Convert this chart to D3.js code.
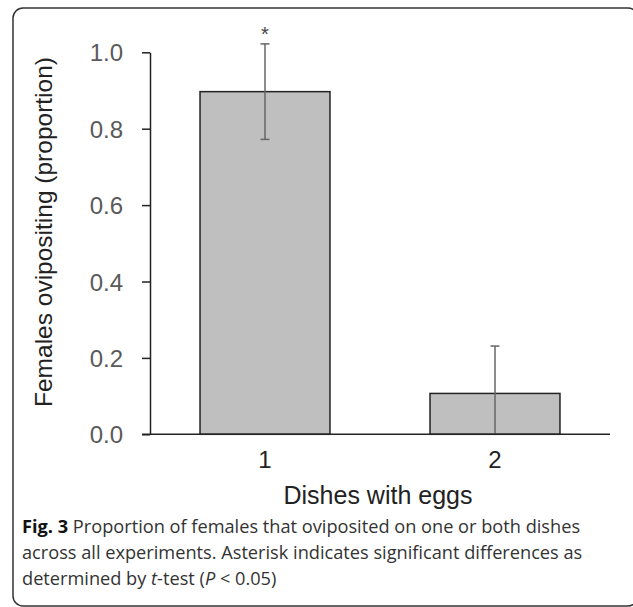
<!DOCTYPE html>
<html lang="en">
<head>
<meta charset="UTF-8">
<title>Fig. 3</title>
<style>
  body { margin: 0; background: #fff; }
  svg { display: block; }
</style>
</head>
<body>
<script src="https://d3js.org/d3.v7.min.js"></script>
<script>
  // values
  const categories = ['1', '2']
  const proportions = [0.897, 0.107]
  const errors = [0.125, 0.124]
  const marks = ['*', '']
  const yTicks = [0, 0.2, 0.4, 0.6, 0.8, 1.0]
  const captionLines = [
    [{ t: 'Fig. 3', b: true }, { t: ' Proportion of females that oviposited on one or both dishes' }],
    [{ t: 'across all experiments. Asterisk indicates significant differences as' }],
    [{ t: 'determined by ' }, { t: 't', i: true }, { t: '-test (' }, { t: 'P', i: true }, { t: ' < 0.05)' }]
  ]

  const width = 633
  const height = 607
  const svg = d3.select('body').append('svg')
    .attr('width', width)
    .attr('height', height)

  // panel frame (right side runs past the picture edge)
  svg.append('rect')
    .attr('x', 13)
    .attr('y', 8)
    .attr('width', 625)
    .attr('height', 598)
    .attr('rx', 10)
    .attr('fill', 'none')
    .attr('stroke', '#333')
    .attr('stroke-width', 1.5)

  const plot = { left: 150, right: 610, top: 52.3, bottom: 434.3 }

  const x = d3.scaleBand()
    .domain(categories)
    .range([plot.left, plot.right])
    .paddingInner(0.435)
    .paddingOuter(0.2175)

  const y = d3.scaleLinear()
    .domain([0, 1])
    .range([plot.bottom, plot.top])

  // y axis
  const yAxis = svg.append('g')
    .attr('transform', `translate(${plot.left},0)`)
    .call(d3.axisLeft(y).tickValues(yTicks).tickFormat(d3.format('.1f')).tickSize(8).tickSizeOuter(0))
  yAxis.select('.domain').attr('stroke', '#222').attr('stroke-width', 1.5)
  yAxis.selectAll('.tick line').attr('stroke', '#222').attr('stroke-width', 1.5)
  yAxis.selectAll('.tick text')
    .attr('x', -27)
    .attr('dy', '0.36em')
    .attr('fill', '#5a5a5a')
    .style('font', '24px "Liberation Sans", Arial, sans-serif')

  // bars
  svg.append('g').selectAll('rect')
    .data(categories)
    .join('rect')
    .attr('x', d => x(d))
    .attr('y', (d, i) => y(proportions[i]))
    .attr('width', x.bandwidth())
    .attr('height', (d, i) => y(0) - y(proportions[i]))
    .attr('fill', '#bfbfbf')
    .attr('stroke', '#222')
    .attr('stroke-width', 1.5)

  // error bars
  const err = svg.append('g').attr('stroke', '#666').attr('stroke-width', 1.5)
  categories.forEach((c, i) => {
    const cx = x(c) + x.bandwidth() / 2
    const hi = proportions[i] + errors[i]
    const lo = Math.max(0, proportions[i] - errors[i])
    err.append('line')
      .attr('x1', cx).attr('x2', cx)
      .attr('y1', y(hi)).attr('y2', y(lo))
    err.append('line')
      .attr('x1', cx - 4.5).attr('x2', cx + 4.5)
      .attr('y1', y(hi)).attr('y2', y(hi))
    if (lo > 0) {
      err.append('line')
        .attr('x1', cx - 4.5).attr('x2', cx + 4.5)
        .attr('y1', y(lo)).attr('y2', y(lo))
    }
    if (marks[i]) {
      svg.append('text')
        .attr('x', cx)
        .attr('y', y(hi) - 3)
        .attr('text-anchor', 'middle')
        .attr('fill', '#444')
        .style('font', '20px "Liberation Sans", Arial, sans-serif')
        .text(marks[i])
    }
  })

  // x axis
  const xAxis = svg.append('g')
    .attr('transform', `translate(0,${plot.bottom})`)
    .call(d3.axisBottom(x).tickSize(0).tickPadding(0))
  xAxis.select('.domain')
    .attr('d', `M${plot.left - 8},0H${plot.right}`)
    .attr('stroke', '#222')
    .attr('stroke-width', 1.5)
  xAxis.selectAll('.tick text')
    .attr('y', 34)
    .attr('dy', 0)
    .attr('fill', '#222')
    .style('font', '24px "Liberation Sans", Arial, sans-serif')

  // axis titles
  svg.append('text')
    .attr('transform', 'translate(52,232) rotate(-90)')
    .attr('text-anchor', 'middle')
    .attr('fill', '#222')
    .style('font', '24.5px "Liberation Sans", Arial, sans-serif')
    .text('Females ovipositing (proportion)')

  svg.append('text')
    .attr('x', 378)
    .attr('y', 504)
    .attr('text-anchor', 'middle')
    .attr('fill', '#222')
    .style('font', '25px "Liberation Sans", Arial, sans-serif')
    .text('Dishes with eggs')

  // caption
  const cap = svg.append('g')
    .style('font', '18.2px "Open Sans", sans-serif')
    .attr('fill', '#333')
  captionLines.forEach((parts, i) => {
    const t = cap.append('text')
      .attr('x', 22)
      .attr('y', 533 + i * 26)
    parts.forEach(p => {
      t.append('tspan')
        .attr('font-weight', p.b ? 700 : null)
        .attr('font-style', p.i ? 'italic' : null)
        .attr('fill', p.b ? '#111' : null)
        .text(p.t)
    })
  })
</script>
</body>
</html>
